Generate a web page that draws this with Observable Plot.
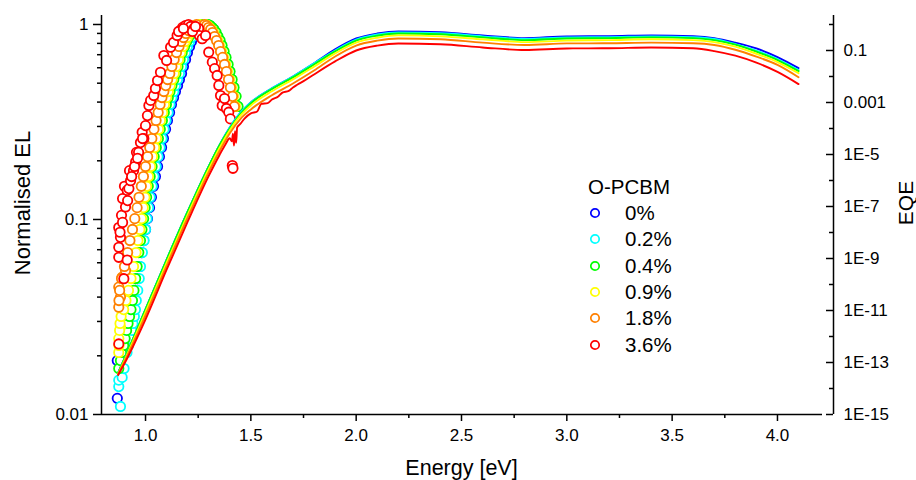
<!DOCTYPE html>
<html><head><meta charset="utf-8">
<script src="https://cdn.jsdelivr.net/npm/d3@7"></script>
<script src="https://cdn.jsdelivr.net/npm/@observablehq/plot@0.6"></script>
<style>
body{margin:0;background:#fff;}
#wrap{position:relative;width:916px;height:480px;font-family:"Liberation Sans",Arial,Helvetica,sans-serif;color:#000;}
#wrap svg{display:block;}
</style></head>
<body><div id="wrap"></div>
<script>
// ---------- series ----------
const seriesNames = ["0%", "0.2%", "0.4%", "0.9%", "1.8%", "3.6%"];
const seriesColors = ["#0000ff", "#00ffff", "#00ff00", "#ffff00", "#ff8000", "#ff0000"];

// ---------- EQE (right axis) ----------
const eqeE = [0.87, 0.9, 1.0, 1.1, 1.2, 1.3, 1.35, 1.4, 1.45, 1.5, 1.6, 1.7, 1.8, 1.9, 2.0, 2.1, 2.2, 2.4, 2.6, 2.8, 3.0, 3.2, 3.4, 3.6, 3.7, 3.8, 3.9, 4.0, 4.1];
const eqeBlue = [4.0e-14, 1.4e-13, 1.1e-11, 8.9e-10, 6.3e-8, 3.5e-6, 2.2e-5, 1.1e-4, 4.0e-4, 1.0e-3, 3.5e-3, 1.0e-2, 3.2e-2, 0.11, 0.29, 0.45, 0.54, 0.50, 0.38, 0.30, 0.35, 0.355, 0.38, 0.355, 0.30, 0.20, 0.12, 0.056, 0.021];
const eqeCyan = [4.0e-14, 1.4e-13, 1.1e-11, 8.9e-10, 6.3e-8, 3.5e-6, 2.2e-5, 1.1e-4, 4.0e-4, 1.0e-3, 3.5e-3, 1.0e-2, 3.2e-2, 0.10, 0.26, 0.41, 0.49, 0.46, 0.35, 0.28, 0.32, 0.325, 0.35, 0.325, 0.28, 0.175, 0.098, 0.047, 0.0175];
const eqeGreen = [4.0e-14, 1.4e-13, 1.1e-11, 8.9e-10, 6.3e-8, 3.5e-6, 2.2e-5, 1.0e-4, 3.6e-4, 9.2e-4, 3.3e-3, 9.2e-3, 2.9e-2, 0.092, 0.24, 0.37, 0.45, 0.42, 0.32, 0.25, 0.29, 0.30, 0.32, 0.30, 0.25, 0.167, 0.090, 0.043, 0.016];
const eqeYellow = [3.6e-14, 1.2e-13, 8.6e-12, 6.8e-10, 4.8e-8, 2.7e-6, 1.7e-5, 8.6e-5, 3.1e-4, 7.7e-4, 2.7e-3, 7.7e-3, 2.4e-2, 0.077, 0.20, 0.31, 0.38, 0.35, 0.27, 0.21, 0.24, 0.25, 0.27, 0.25, 0.21, 0.140, 0.075, 0.036, 0.0134];
const eqeOrange = [3.6e-14, 1.1e-13, 6.6e-12, 5.2e-10, 3.7e-8, 2.1e-6, 1.3e-5, 6.6e-5, 2.3e-4, 5.4e-4, 1.9e-3, 5.4e-3, 1.7e-2, 0.059, 0.155, 0.24, 0.29, 0.27, 0.20, 0.163, 0.187, 0.19, 0.20, 0.19, 0.163, 0.107, 0.058, 0.028, 9.4e-3];
const eqeRedE = [0.87, 0.9, 1.0, 1.1, 1.2, 1.3, 1.35, 1.38, 1.40, 1.41, 1.415, 1.42, 1.425, 1.43, 1.435, 1.45, 1.47, 1.50, 1.53, 1.55, 1.58, 1.60, 1.63, 1.65, 1.68, 1.70, 1.72, 1.75, 1.8, 1.9, 2.0, 2.1, 2.2, 2.4, 2.6, 2.8, 3.0, 3.2, 3.4, 3.6, 3.7, 3.8, 3.9, 4.0, 4.1];
const eqeRed = [3.3e-14, 9.1e-14, 4.6e-12, 3.7e-10, 2.6e-8, 1.5e-6, 9.2e-6, 2.5e-5, 4.2e-5, 3.2e-5, 6.3e-5, 2.2e-5, 7.9e-5, 2.8e-5, 1.1e-4, 1.5e-4, 2.4e-4, 3.8e-4, 4.5e-4, 8.9e-4, 9.5e-4, 1.3e-3, 1.7e-3, 2.4e-3, 2.8e-3, 3.8e-3, 4.8e-3, 6.6e-3, 1.2e-2, 0.038, 0.10, 0.154, 0.185, 0.173, 0.131, 0.104, 0.120, 0.122, 0.131, 0.122, 0.095, 0.063, 0.034, 0.015, 5.1e-3];

// ---------- Normalised EL (left axis) ----------
// EL levels at which the rising / falling edges were read
const elRise = [0.0208, 0.0226, 0.0245, 0.0270, 0.0293, 0.0318, 0.0345, 0.0384, 0.0433, 0.0498, 0.0574, 0.0677, 0.0780, 0.0889, 0.101, 0.115, 0.130, 0.148, 0.166, 0.187, 0.210, 0.234, 0.260, 0.290, 0.322, 0.354, 0.389, 0.422, 0.453, 0.486, 0.522, 0.561, 0.609, 0.662, 0.718, 0.771, 0.818, 0.857, 0.899, 0.931, 0.954, 0.977, 0.988, 1.0];
const elFall = [1.0, 0.988, 0.965, 0.943, 0.910, 0.868, 0.828, 0.780, 0.727, 0.678, 0.624, 0.574, 0.522, 0.475, 0.428, 0.380];

const blueLowE = [0.866, 0.866];
const blueLowEL = [0.0121, 0.0189];
const blueRiseE = [0.877, 0.886, 0.896, 0.905, 0.915, 0.924, 0.934, 0.943, 0.953, 0.962, 0.972, 0.981, 0.991, 1.000, 1.009, 1.019, 1.028, 1.038, 1.047, 1.057, 1.066, 1.076, 1.085, 1.095, 1.104, 1.114, 1.123, 1.133, 1.142, 1.152, 1.161, 1.171, 1.180, 1.190, 1.199, 1.209, 1.218, 1.228, 1.237, 1.247, 1.256, 1.266, 1.275, 1.285];
const blueFallE = [1.294, 1.304, 1.313, 1.323, 1.332, 1.342, 1.351, 1.361, 1.370, 1.380, 1.389, 1.399, 1.408, 1.418, 1.427, 1.437];

const cyanLowE = [0.881, 0.873, 0.873, 0.889, 0.898];
const cyanLowEL = [0.011, 0.0139, 0.0150, 0.0155, 0.0172];
const cyanRiseE = [0.912, 0.919, 0.926, 0.934, 0.940, 0.947, 0.952, 0.956, 0.963, 0.970, 0.976, 0.985, 0.993, 1.000, 1.007, 1.014, 1.022, 1.031, 1.040, 1.050, 1.059, 1.069, 1.078, 1.088, 1.097, 1.107, 1.116, 1.125, 1.134, 1.142, 1.152, 1.161, 1.171, 1.180, 1.190, 1.199, 1.209, 1.218, 1.228, 1.237, 1.247, 1.256, 1.266, 1.275];
const cyanFallE = [1.292, 1.301, 1.311, 1.320, 1.330, 1.339, 1.349, 1.358, 1.368, 1.377, 1.387, 1.396, 1.406, 1.415, 1.425, 1.434];

const greenLowE = [0.873, 0.881];
const greenLowEL = [0.0172, 0.0189];
const greenRiseE = [0.886, 0.896, 0.903, 0.910, 0.917, 0.924, 0.931, 0.938, 0.945, 0.953, 0.960, 0.968, 0.976, 0.983, 0.991, 0.998, 1.005, 1.013, 1.022, 1.031, 1.041, 1.051, 1.061, 1.070, 1.080, 1.089, 1.099, 1.108, 1.116, 1.125, 1.134, 1.144, 1.154, 1.164, 1.174, 1.185, 1.195, 1.204, 1.215, 1.225, 1.236, 1.247, 1.256, 1.266];
const greenFallE = [1.297, 1.306, 1.316, 1.325, 1.335, 1.344, 1.354, 1.363, 1.373, 1.382, 1.392, 1.401, 1.411, 1.420, 1.430, 1.439];

const yellowLowE = [0.881];
const yellowLowEL = [0.028];
const yellowRiseE = [0.873, 0.874, 0.873, 0.877, 0.879, 0.884, 0.896, 0.907, 0.919, 0.931, 0.943, 0.955, 0.964, 0.973, 0.981, 0.989, 0.997, 1.005, 1.014, 1.024, 1.033, 1.043, 1.052, 1.062, 1.071, 1.081, 1.090, 1.100, 1.108, 1.117, 1.126, 1.136, 1.146, 1.157, 1.167, 1.178, 1.188, 1.198, 1.209, 1.219, 1.230, 1.240, 1.248, 1.256];
const yellowFallE = [1.285, 1.294, 1.304, 1.313, 1.323, 1.332, 1.342, 1.351, 1.361, 1.370, 1.380, 1.389, 1.399, 1.408, 1.418, 1.427];

const orangeLowE = [0.873, 0.881, 0.873, 0.889, 0.905];
const orangeLowEL = [0.0355, 0.040, 0.045, 0.0506, 0.0547];
const orangeRiseE = [null, null, null, null, null, null, null, 0.874, 0.877, 0.886, 0.900, 0.915, 0.926, 0.938, 0.949, 0.960, 0.969, 0.980, 0.990, 1.000, 1.010, 1.020, 1.030, 1.040, 1.050, 1.060, 1.069, 1.078, 1.087, 1.096, 1.105, 1.115, 1.125, 1.136, 1.147, 1.159, 1.169, 1.180, 1.192, 1.204, 1.215, 1.225, 1.234, 1.242];
const orangeFallE = [1.280, 1.290, 1.299, 1.309, 1.318, 1.328, 1.337, 1.347, 1.356, 1.366, 1.375, 1.384, 1.394, 1.403, 1.413, 1.422];

const redElE = [0.873, 0.873, 0.873, 0.873, 0.881, 0.886, 0.891, 0.897, 0.900, 0.905, 0.913, 0.913, 0.921, 0.924, 0.929, 0.943, 0.953, 0.957, 0.967, 0.976, 0.984, 0.992, 1.000, 1.009, 1.016, 1.024, 1.039, 1.047, 1.057, 1.071, 1.087, 1.100, 1.119, 1.133, 1.150, 1.166, 1.176, 1.190, 1.204, 1.214, 1.229, 1.242, 1.252, 1.256, 1.269, 1.285, 1.300, 1.317, 1.328, 1.340, 1.348, 1.356, 1.364, 1.375, 1.384, 1.395, 1.403, 1.412, 1.415, 0.879, 0.891, 0.915, 0.934, 0.948, 0.962, 0.986, 1.157, 1.180, 1.223, 1.237];
const redEl = [0.023, 0.072, 0.064, 0.091, 0.081, 0.105, 0.128, 0.0497, 0.148, 0.116, 0.062, 0.141, 0.144, 0.178, 0.158, 0.178, 0.197, 0.221, 0.221, 0.248, 0.280, 0.260, 0.303, 0.341, 0.384, 0.408, 0.432, 0.470, 0.516, 0.569, 0.693, 0.654, 0.765, 0.809, 0.878, 0.932, 0.966, 0.988, 1.0, 0.977, 0.950, 0.932, 0.954, 0.878, 0.845, 0.878, 0.721, 0.641, 0.594, 0.548, 0.487, 0.432, 0.384, 0.417, 0.371, 0.355, 0.328, 0.189, 0.183, 0.086, 0.0966, 0.125, 0.166, 0.187, 0.206, 0.260, 0.921, 0.954, 0.921, 0.977];

// ---------- axes ----------
const xDomain = [0.791, 4.266];
const yDomain = [0.01, 1.112];
const xMajor = [1.0, 1.5, 2.0, 2.5, 3.0, 3.5, 4.0];
const xMinor = [1.25, 1.75, 2.25, 2.75, 3.25, 3.75];
const yMajor = [0.01, 0.1, 1];
const yMinor = [0.02, 0.03, 0.04, 0.05, 0.06, 0.07, 0.08, 0.09, 0.2, 0.3, 0.4, 0.5, 0.6, 0.7, 0.8, 0.9];
const eqeMajorTicks = [1e-15, 1e-13, 1e-11, 1e-9, 1e-7, 1e-5, 1e-3, 1e-1];
const eqeTickLabels = ["1E-15", "1E-13", "1E-11", "1E-9", "1E-7", "1E-5", "0.001", "0.1"];
const eqeMinorTicks = [1e-14, 1e-12, 1e-10, 1e-8, 1e-6, 1e-4, 1e-2, 1];
const eqeRange = [1e-15, 1]; // spans the same height as EL 0.01 .. 1

// ---------- build ----------
const W = 916, H = 480, mL = 101, mR = 83, mT = 15, mB = 66;
const plotW = W - mL - mR;
const decLeft = Math.log10(1) - Math.log10(yDomain[0]);
const decRight = Math.log10(eqeRange[1]) - Math.log10(eqeRange[0]);
const toLeft = v => Math.pow(10, Math.log10(yDomain[0]) + (Math.log10(v) - Math.log10(eqeRange[0])) * decLeft / decRight);

const pts = (E, EL) => E.map((e, i) => ({E: e, EL: EL[i]})).filter(d => d.E != null && d.EL != null);
const elSeries = [
  pts(blueLowE, blueLowEL).concat(pts(blueRiseE, elRise), pts(blueFallE, elFall)),
  pts(cyanLowE, cyanLowEL).concat(pts(cyanRiseE, elRise), pts(cyanFallE, elFall)),
  pts(greenLowE, greenLowEL).concat(pts(greenRiseE, elRise), pts(greenFallE, elFall)),
  pts(yellowLowE, yellowLowEL).concat(pts(yellowRiseE, elRise), pts(yellowFallE, elFall)),
  pts(orangeLowE, orangeLowEL).concat(pts(orangeRiseE, elRise), pts(orangeFallE, elFall)),
  pts(redElE, redEl)
];
const eqeSeries = [
  pts(eqeE, eqeBlue), pts(eqeE, eqeCyan), pts(eqeE, eqeGreen),
  pts(eqeE, eqeYellow), pts(eqeE, eqeOrange), pts(eqeRedE, eqeRed)
];

const marks = [];
elSeries.forEach((data, i) => marks.push(
  Plot.dot(data, {x: "E", y: "EL", r: 4.7, stroke: seriesColors[i], fill: "white", strokeWidth: 1.8})
));
eqeSeries.forEach((data, i) => marks.push(
  Plot.line(data, {x: "E", y: d => toLeft(d.EL), stroke: seriesColors[i], strokeWidth: 1.9, curve: "monotone-x"})
));

// axis lines
marks.push(Plot.ruleX(xDomain, {stroke: "#000", strokeWidth: 1.5}));
marks.push(Plot.ruleY([yDomain[0]], {insetRight: 11, stroke: "#000", strokeWidth: 1.5}));
// left axis
marks.push(Plot.axisY({ticks: yMajor, tickSize: 8, tickPadding: 5, tickFormat: d => String(d), strokeWidth: 1.5, label: null, fontSize: 17}));
marks.push(Plot.axisY({ticks: yMinor, tickSize: 4, tickFormat: () => "", strokeWidth: 1.5, label: null}));
// bottom axis
marks.push(Plot.axisX({ticks: xMajor, tickSize: 7, tickPadding: 7, tickFormat: d3.format(".1f"), strokeWidth: 1.5, label: null, fontSize: 17}));
marks.push(Plot.axisX({ticks: xMinor, tickSize: 4, tickFormat: () => "", strokeWidth: 1.5, label: null}));
// right axis (EQE), ticks point inward
marks.push(Plot.ruleY(eqeMajorTicks, {y: toLeft, insetLeft: plotW - 7, stroke: "#000", strokeWidth: 1.5}));
marks.push(Plot.ruleY(eqeMinorTicks, {y: toLeft, insetLeft: plotW - 4, stroke: "#000", strokeWidth: 1.5}));
marks.push(Plot.text(eqeMajorTicks, {y: toLeft, text: (d, i) => eqeTickLabels[i], frameAnchor: "right", dx: 10, textAnchor: "start", lineAnchor: "middle", fontSize: 17, fill: "#000"}));
// axis titles
marks.push(Plot.text(["Normalised EL"], {text: d => d, frameAnchor: "left", dx: -79, dy: -12, rotate: -90, textAnchor: "middle", lineAnchor: "middle", fontSize: 22, fill: "#000"}));
marks.push(Plot.text(["EQE"], {text: d => d, frameAnchor: "right", dx: 73, dy: -12, rotate: -90, textAnchor: "middle", lineAnchor: "middle", fontSize: 21, fill: "#000"}));
marks.push(Plot.text(["Energy [eV]"], {text: d => d, frameAnchor: "bottom", dx: -6, dy: 54, textAnchor: "middle", lineAnchor: "middle", fontSize: 21.5, fill: "#000"}));

const chart = Plot.plot({
  width: W, height: H,
  marginLeft: mL, marginRight: mR, marginTop: mT, marginBottom: mB,
  style: {fontSize: "17px", fontFamily: "'Liberation Sans', Arial, Helvetica, sans-serif", color: "#000", background: "#fff"},
  x: {domain: xDomain, label: null},
  y: {type: "log", domain: yDomain, label: null},
  marks
});
const wrap = document.getElementById("wrap");
wrap.appendChild(chart);

// legend (inside the plot area)
const leg = document.createElement("div");
leg.style.cssText = "position:absolute;left:0;top:0;width:916px;height:480px;pointer-events:none;";
let html = '<div style="position:absolute;left:588px;top:175px;font-size:20.5px;line-height:24px;">O-PCBM</div>';
seriesNames.forEach((n, i) => {
  const cy = 213 + 26.3 * i;
  html += `<svg style="position:absolute;left:589px;top:${cy - 6}px" width="12" height="12"><circle cx="6" cy="6" r="4.2" fill="white" stroke="${seriesColors[i]}" stroke-width="1.7"/></svg>`;
  html += `<div style="position:absolute;left:625px;top:${cy - 12}px;font-size:20.5px;line-height:24px;">${n}</div>`;
});
leg.innerHTML = html;
wrap.appendChild(leg);
</script></body></html>
